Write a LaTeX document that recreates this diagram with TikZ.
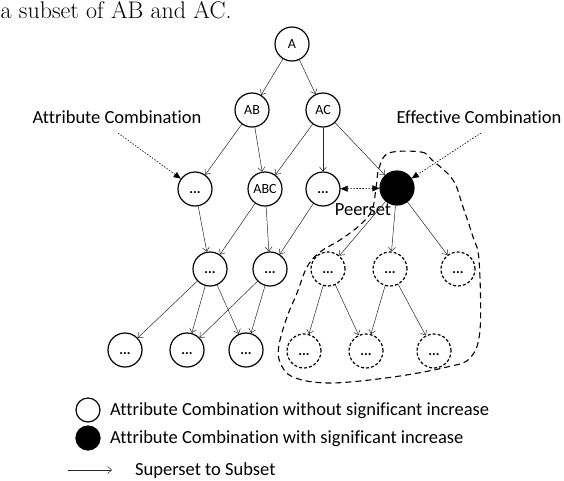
\documentclass[tikz,border=0pt]{standalone}
\usepackage{fontspec}
\newfontfamily\calibri[Ligatures=NoCommon]{Carlito}
\usepackage{tikz}
\usetikzlibrary{arrows.meta, positioning}

\begin{document}
\begin{tikzpicture}[
    x=1pt, y=-1pt,
    comb/.style={
      circle, draw=black, line width=1.2pt, fill=white,
      minimum size=34pt, inner sep=0pt, text height=9pt, text depth=0pt,
      font=\calibri\fontsize{14}{16}\selectfont
    },
    subcomb/.style={comb, dash pattern=on 3pt off 2pt},
    effcomb/.style={comb, fill=black},
    legcirc/.style={comb, minimum size=24pt},
    arr/.style={-{Straight Barb[length=4pt, width=7pt]}, line width=0.5pt, black!85},
    note/.style={-{Triangle[length=7pt, width=6pt]}, dash pattern=on 1.5pt off 1.5pt, line width=0.6pt},
    lbl/.style={font=\calibri\fontsize{18.5}{20}\selectfont, inner sep=0pt},
  ]

  \useasboundingbox (0,0) rectangle (564,480);

  \node[anchor=base west, inner sep=0pt, font=\fontsize{24}{27}\selectfont] (caption) at (0.5,18) {a subset of AB and AC.};

  % Lattice
  \node[comb] (a) at (292,44) {A};
  \node[comb] (ab) at (252,110) {AB};
  \node[comb] (ac) at (323,110) {AC};

  \node[comb] (n3a) at (195,189) {\textbf{...}};
  \node[comb] (abc) at (265,189) {ABC};
  \node[comb] (n3c) at (323,189) {\textbf{...}};
  \node[effcomb] (eff) at (397,188) {};

  \node[comb] (n4a) at (210,269) {\textbf{...}};
  \node[comb] (n4b) at (270,269) {\textbf{...}};
  \node[subcomb] (n4c) at (328,269) {\textbf{...}};
  \node[subcomb] (n4d) at (390,269) {\textbf{...}};
  \node[subcomb] (n4e) at (458,269) {\textbf{...}};

  \node[comb] (n5a) at (125,350) {\textbf{...}};
  \node[comb] (n5b) at (187,350) {\textbf{...}};
  \node[comb] (n5c) at (246,350) {\textbf{...}};
  \node[subcomb] (n5d) at (304,351) {\textbf{...}};
  \node[subcomb] (n5e) at (366,351) {\textbf{...}};
  \node[subcomb] (n5f) at (434,351) {\textbf{...}};

  % Labels
  \node[lbl, anchor=base] (attrlbl) at (117,123) {Attribute Combination};
  \node[lbl, anchor=base] (efflbl) at (479,123) {Effective Combination};
  \node[lbl, anchor=base] (peerlbl) at (363,215) {Peerset};
  \coordinate (attrtail) at (118,133);
  \coordinate (efftail) at (481,133);

  % Arrows
  \draw[arr] (a) -- (ab);
  \draw[arr] (a) -- (ac);
  \draw[arr] (ab) -- (n3a);
  \draw[arr] (ab) -- (abc);
  \draw[arr] (ac) -- (abc);
  \draw[arr] (ac) -- (n3c);
  \draw[arr] (ac) -- (eff);
  \draw[arr] (n3a) -- (n4a);
  \draw[arr] (abc) -- (n4a);
  \draw[arr] (abc) -- (n4b);
  \draw[arr] (n3c) -- (n4b);
  \draw[arr] (eff) -- (n4c);
  \draw[arr] (eff) -- (n4d);
  \draw[arr] (eff) -- (n4e);
  \draw[arr] (n4a) -- (n5a);
  \draw[arr] (n4a) -- (n5b);
  \draw[arr] (n4a) -- (n5c);
  \draw[arr] (n4b) -- (n5b);
  \draw[arr] (n4b) -- (n5c);
  \draw[arr] (n4c) -- (n5d);
  \draw[arr] (n4c) -- (n5e);
  \draw[arr] (n4d) -- (n5e);
  \draw[arr] (n4d) -- (n5f);

  % Pointers and peerset
  \draw[note] (attrtail) -- (n3a);
  \draw[note] (efftail) -- (eff);
  \draw[note, {Triangle[length=7pt, width=6pt]}-{Triangle[length=7pt, width=6pt]}] (n3c) -- (eff);

  % Subset region
  \draw[line width=1.1pt, dash pattern=on 6pt off 4pt] plot[smooth cycle, tension=0.6] coordinates {
    (389,153) (421,152) (432,160) (453,180) (463,207) (473,237) (479,260)
    (480,330) (470,358) (447,367) (393,377) (330,383) (293,377) (280,362)
    (279,345) (287,317) (297,293) (307,267) (320,252) (340,240) (360,225)
    (372,210) (376,188) (379,168)
  };

  % Legend
  \node[legcirc] (legw) at (88,410) {};
  \node[legcirc, fill=black] (legb) at (88,438) {};
  \node[lbl, anchor=base west] (legwtxt) at (110,415) {Attribute Combination without significant increase};
  \node[lbl, anchor=base west] (legbtxt) at (110,443) {Attribute Combination with significant increase};
  \node[lbl, anchor=base west] (legatxt) at (135,475) {Superset to Subset};
  \coordinate (legfrom) at (68,470);
  \coordinate (legto) at (112,470);
  \draw[arr] (legfrom) -- (legto);

\end{tikzpicture}
\end{document}
